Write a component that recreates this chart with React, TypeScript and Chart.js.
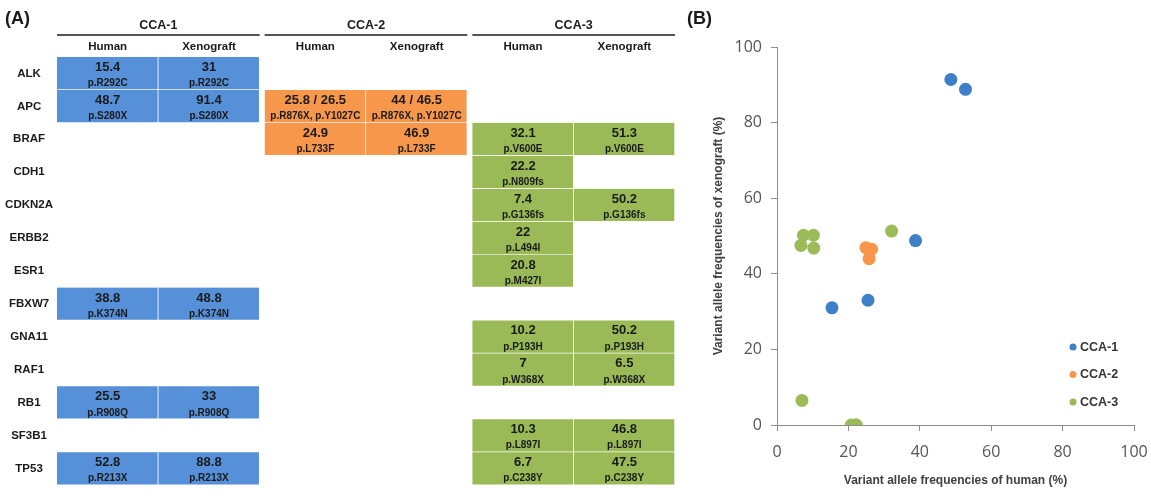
import React, { useEffect, useRef } from 'react';
import { Chart, registerables } from 'chart.js';

Chart.register(...registerables);

// ---------------- DATA ----------------
const genes = ['ALK', 'APC', 'BRAF', 'CDH1', 'CDKN2A', 'ERBB2', 'ESR1', 'FBXW7', 'GNA11', 'RAF1', 'RB1', 'SF3B1', 'TP53'];
const groupNames = ['CCA-1', 'CCA-2', 'CCA-3'];
const sampleNames = ['Human', 'Xenograft'];

// table (A): text of each cell, null = empty
const cca1HumanText = ['15.4', '48.7', null, null, null, null, null, '38.8', null, null, '25.5', null, '52.8'];
const cca1XenoText = ['31', '91.4', null, null, null, null, null, '48.8', null, null, '33', null, '88.8'];
const cca1Mutation = ['p.R292C', 'p.S280X', null, null, null, null, null, 'p.K374N', null, null, 'p.R908Q', null, 'p.R213X'];

const cca2HumanText = [null, '25.8 / 26.5', '24.9', null, null, null, null, null, null, null, null, null, null];
const cca2XenoText = [null, '44 / 46.5', '46.9', null, null, null, null, null, null, null, null, null, null];
const cca2Mutation = [null, 'p.R876X, p.Y1027C', 'p.L733F', null, null, null, null, null, null, null, null, null, null];

const cca3HumanText = [null, null, '32.1', '22.2', '7.4', '22', '20.8', null, '10.2', '7', null, '10.3', '6.7'];
const cca3XenoText = [null, null, '51.3', null, '50.2', null, null, null, '50.2', '6.5', null, '46.8', '47.5'];
const cca3Mutation = [null, null, 'p.V600E', 'p.N809fs', 'p.G136fs', 'p.L494I', 'p.M427I', null, 'p.P193H', 'p.W368X', null, 'p.L897I', 'p.C238Y'];

// scatter (B): variant allele frequencies
const cca1HumanVaf = [15.4, 48.7, 38.8, 25.5, 52.8];
const cca1XenoVaf = [31, 91.4, 48.8, 33, 88.8];
const cca2HumanVaf = [25.8, 26.5, 24.9];
const cca2XenoVaf = [44, 46.5, 46.9];
const cca3HumanVaf = [32.1, 22.2, 7.4, 22, 20.8, 10.2, 7, 10.3, 6.7];
const cca3XenoVaf = [51.3, 0, 50.2, 0, 0, 50.2, 6.5, 46.8, 47.5];

const xTicks = [0, 20, 40, 60, 80, 100];
const yTicks = [0, 20, 40, 60, 80, 100];

// ---------------- STYLE ----------------
const groupColors = ['#5690d8', '#f7974c', '#99ba56'];
const GROUP_SPAN = 2.05;
const FONT = '"Liberation Sans", Arial, Helvetica, sans-serif';

const tableColumns = [
  { group: 0, sub: 0, texts: cca1HumanText, muts: cca1Mutation },
  { group: 0, sub: 1, texts: cca1XenoText, muts: cca1Mutation },
  { group: 1, sub: 0, texts: cca2HumanText, muts: cca2Mutation },
  { group: 1, sub: 1, texts: cca2XenoText, muts: cca2Mutation },
  { group: 2, sub: 0, texts: cca3HumanText, muts: cca3Mutation },
  { group: 2, sub: 1, texts: cca3XenoText, muts: cca3Mutation },
];

const tablePlugin = {
  id: 'tableText',
  afterDatasetsDraw(chart: any) {
    const ctx = chart.ctx;
    ctx.save();
    ctx.textAlign = 'center';
    ctx.textBaseline = 'middle';
    ctx.fillStyle = '#1a1a1a';
    chart.data.datasets.forEach((_ds: any, di: number) => {
      const meta = chart.getDatasetMeta(di);
      const col = tableColumns[di];
      meta.data.forEach((el: any, j: number) => {
        const t = col.texts[j];
        if (t == null) return;
        const { x, y, base } = el.getProps(['x', 'y', 'base'], true);
        const cx = (x + base) / 2;
        ctx.font = `bold 13px ${FONT}`;
        ctx.fillText(t, cx, y - 6);
        ctx.font = `bold 10px ${FONT}`;
        ctx.fillText(col.muts[j] ?? '', cx, y + 10);
      });
    });
    ctx.restore();
  },
  afterDraw(chart: any) {
    const ctx = chart.ctx;
    const xs = chart.scales.x;
    ctx.save();
    ctx.fillStyle = '#1a1a1a';
    ctx.textBaseline = 'middle';
    ctx.textAlign = 'left';
    ctx.font = `bold 18px ${FONT}`;
    ctx.fillText('(A)', 5, 19);
    ctx.textAlign = 'center';
    groupNames.forEach((g, gi) => {
      const x0 = xs.getPixelForValue(gi * GROUP_SPAN);
      const x1 = xs.getPixelForValue(gi * GROUP_SPAN + 2);
      ctx.font = `bold 12.5px ${FONT}`;
      ctx.fillStyle = '#1a1a1a';
      ctx.fillText(g, (x0 + x1) / 2, 26);
      ctx.strokeStyle = '#555';
      ctx.lineWidth = 2;
      ctx.beginPath();
      ctx.moveTo(x0, 35);
      ctx.lineTo(x1, 35);
      ctx.stroke();
      sampleNames.forEach((s, si) => {
        const c = xs.getPixelForValue(gi * GROUP_SPAN + si + 0.5);
        ctx.font = `bold 11.5px ${FONT}`;
        ctx.fillText(s, c, 47);
      });
    });
    ctx.restore();
  },
};

const legendPlugin = {
  id: 'insideLegend',
  afterDraw(chart: any) {
    const ctx = chart.ctx;
    const a = chart.chartArea;
    ctx.save();
    chart.data.datasets.forEach((ds: any, i: number) => {
      const y = a.bottom - 78 + i * 27.5;
      const x = a.right - 61;
      ctx.fillStyle = ds.backgroundColor;
      ctx.beginPath();
      ctx.arc(x, y, 3.5, 0, Math.PI * 2);
      ctx.fill();
      ctx.fillStyle = '#333';
      ctx.font = `bold 12.5px ${FONT}`;
      ctx.textAlign = 'left';
      ctx.textBaseline = 'middle';
      ctx.fillText(ds.label, x + 7, y + 0.5);
    });
    ctx.fillStyle = '#1a1a1a';
    ctx.font = `bold 18px ${FONT}`;
    ctx.textAlign = 'left';
    ctx.fillText('(B)', 7, 19);
    ctx.restore();
  },
};

function TableChart() {
  const ref = useRef<HTMLCanvasElement>(null);
  useEffect(() => {
    const chart = new Chart(ref.current as HTMLCanvasElement, {
      type: 'bar',
      data: {
        labels: genes,
        datasets: tableColumns.map((c) => ({
          label: `${groupNames[c.group]} ${sampleNames[c.sub]}`,
          data: c.texts.map((t) => (t == null ? null : [c.group * GROUP_SPAN + c.sub, c.group * GROUP_SPAN + c.sub + 1])) as any,
          backgroundColor: groupColors[c.group],
          borderColor: 'rgba(255,255,255,0.6)',
          borderWidth: { top: 0, left: 0, right: 1, bottom: 1 } as any,
          borderSkipped: false,
          barPercentage: 1,
          categoryPercentage: 1,
          grouped: false,
        })),
      },
      options: {
        indexAxis: 'y',
        animation: false,
        responsive: false,
        events: [],
        layout: { padding: { top: 57, bottom: 2, right: 5, left: 0 } },
        plugins: { legend: { display: false }, tooltip: { enabled: false } },
        scales: {
          x: { type: 'linear', min: 0, max: 3 * GROUP_SPAN - 0.05, display: false },
          y: {
            type: 'category',
            grid: { display: false, drawTicks: false },
            border: { display: false },
            ticks: {
              crossAlign: 'center',
              padding: 4,
              color: '#1a1a1a',
              font: { family: FONT, weight: 'bold', size: 11.5 },
            },
            afterFit: (s: any) => {
              s.width = 57;
            },
          },
        },
      } as any,
      plugins: [tablePlugin],
    });
    return () => chart.destroy();
  }, []);
  return <canvas ref={ref} width={680} height={496} style={{ position: 'absolute', left: 0, top: 0, width: 680, height: 496 }} />;
}

function ScatterChart() {
  const ref = useRef<HTMLCanvasElement>(null);
  useEffect(() => {
    const mk = (xs: number[], ys: number[]) => xs.map((x, i) => ({ x, y: ys[i] }));
    const axisColor = '#8c8c8c';
    const tickFont = { family: '"Open Sans", "Noto Sans", sans-serif', size: 16 };
    const chart = new Chart(ref.current as HTMLCanvasElement, {
      type: 'scatter',
      data: {
        datasets: [
          { label: groupNames[0], data: mk(cca1HumanVaf, cca1XenoVaf), backgroundColor: '#3f7fc8' },
          { label: groupNames[1], data: mk(cca2HumanVaf, cca2XenoVaf), backgroundColor: '#f7964a' },
          { label: groupNames[2], data: mk(cca3HumanVaf, cca3XenoVaf), backgroundColor: '#9bbb59' },
        ],
      },
      options: {
        animation: false,
        responsive: false,
        events: [],
        elements: { point: { radius: 6.5, borderWidth: 0, hoverRadius: 6.5 } },
        layout: { padding: { top: 47, bottom: 0, left: 0, right: 17 } },
        plugins: { legend: { display: false }, tooltip: { enabled: false } },
        scales: {
          x: {
            type: 'linear',
            min: 0,
            max: 100,
            afterBuildTicks: (s: any) => {
              s.ticks = xTicks.map((v) => ({ value: v }));
            },
            grid: { drawOnChartArea: false, drawTicks: true, tickLength: 6, color: axisColor },
            border: { display: true, color: axisColor, width: 1 },
            ticks: { color: '#555', font: tickFont, padding: 12 },
            title: {
              display: true,
              text: 'Variant allele frequencies of human (%)',
              color: '#404040',
              font: { family: FONT, weight: 'bold', size: 12 },
              padding: { top: 4, bottom: 8 },
            },
            afterFit: (s: any) => {
              s.height = 71;
            },
          },
          y: {
            type: 'linear',
            min: 0,
            max: 100,
            afterBuildTicks: (s: any) => {
              s.ticks = yTicks.map((v) => ({ value: v }));
            },
            grid: { drawOnChartArea: false, drawTicks: true, tickLength: 6, color: axisColor },
            border: { display: true, color: axisColor, width: 1 },
            ticks: { color: '#555', font: tickFont, padding: 9 },
            title: {
              display: true,
              text: 'Variant allele frequencies of xenograft (%)',
              color: '#404040',
              font: { family: FONT, weight: 'bold', size: 12 },
              padding: { top: 31, bottom: 4 },
            },
            afterFit: (s: any) => {
              s.width = 97;
            },
          },
        },
      } as any,
      plugins: [
        legendPlugin,
        {
          id: 'fixArea',
          afterLayout(chart: any) {
            // keep the plot area's right edge where the reference has it
            const a = chart.chartArea;
            const wanted = 454;
            if (Math.abs(a.right - wanted) > 0.5) {
              const xs = chart.scales.x;
              xs.right = wanted;
              xs.width = wanted - xs.left;
              a.right = wanted;
              a.width = wanted - a.left;
              xs.configure();
            }
          },
        },
      ],
    });
    return () => chart.destroy();
  }, []);
  return <canvas ref={ref} width={471} height={496} style={{ position: 'absolute', left: 680, top: 0, width: 471, height: 496 }} />;
}

export default function App() {
  return (
    <div style={{ position: 'fixed', left: 0, top: 0, width: 1151, height: 496, background: '#fff', overflow: 'hidden' }}>
      <TableChart />
      <ScatterChart />
    </div>
  );
}
